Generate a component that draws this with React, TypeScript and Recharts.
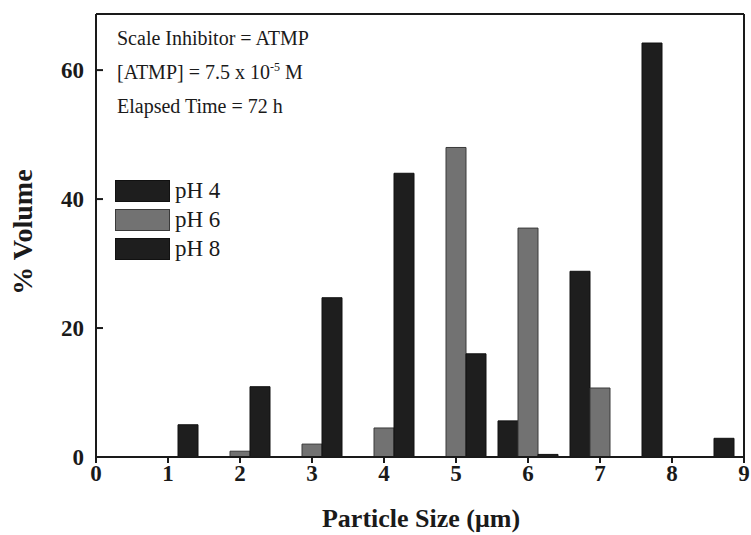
import React from 'react';
import { BarChart, Bar, XAxis, YAxis, ReferenceLine, Legend, Customized } from 'recharts';

// Particle size bins (µm) and % volume per pH
const sizes = [1, 2, 3, 4, 5, 6, 7, 8, 9];
const ph4 = [0, 0, 0, 0, 0, 5.6, 28.8, 64.2, 2.9];
const ph6 = [0, 0.9, 2.0, 4.5, 48.0, 35.5, 10.7, 0, 0];
const ph8 = [5.0, 10.9, 24.7, 44.0, 16.0, 0.4, 0, 0, 0];

const xTicks = [0, 1, 2, 3, 4, 5, 6, 7, 8, 9];
const yTicks = [0, 20, 40, 60];
const yMax = 68.7;

const seriesNames = ['pH 4', 'pH 6', 'pH 8'];
const seriesFills = ['#1e1e1e', '#727272', '#1e1e1e'];
const seriesStrokes = ['#111111', '#3a3a3a', '#111111'];

const data = sizes.map((s, i) => ({ size: s, ph4: ph4[i], ph6: ph6[i], ph8: ph8[i] }));

const FONT = "'Liberation Serif', 'Times New Roman', serif";
const INK = '#1a1a1a';

const YTick = (props: any) => {
  const { x, y, payload } = props;
  return (
    <g>
      <line x1={x} y1={y} x2={x + 7} y2={y} stroke={INK} strokeWidth={2} />
      <text x={x - 12} y={y} dy="0.35em" textAnchor="end" fontFamily={FONT} fontWeight="bold" fontSize={23} fill={INK}>
        {payload.value}
      </text>
    </g>
  );
};

const XTick = (props: any) => {
  const { x, y, payload } = props;
  return (
    <text x={x} y={y} dy="0.71em" textAnchor="middle" fontFamily={FONT} fontWeight="bold" fontSize={23} fill={INK}>
      {payload.value}
    </text>
  );
};

const LegendBox = () => (
  <div style={{ display: 'flex', flexDirection: 'column', gap: 7 }}>
    {seriesNames.map((n, i) => (
      <div key={n} style={{ display: 'flex', alignItems: 'center', height: 22 }}>
        <div
          style={{
            width: 53,
            height: 20,
            background: seriesFills[i],
            border: `1px solid ${seriesStrokes[i]}`,
          }}
        />
        <span style={{ fontFamily: FONT, fontSize: 23, color: INK, marginLeft: 5, lineHeight: '22px' }}>{n}</span>
      </div>
    ))}
  </div>
);

const Notes = () => (
  <g fontFamily={FONT} fontSize={20} fill={INK}>
    <text x={117} y={45}>Scale Inhibitor = ATMP</text>
    <text x={117} y={79}>
      [ATMP] = 7.5 x 10
      <tspan dy={-8} fontSize={12}>-5</tspan>
      <tspan dy={8}> M</tspan>
    </text>
    <text x={117} y={113}>Elapsed Time = 72 h</text>
    <text x={421} y={527} textAnchor="middle" fontSize={26} fontWeight="bold">
      Particle Size (μm)
    </text>
    <text
      x={32}
      y={232}
      textAnchor="middle"
      fontSize={28}
      fontWeight="bold"
      transform="rotate(-90 32 232)"
    >
      % Volume
    </text>
  </g>
);

export default function App() {
  return (
    <div style={{ position: 'absolute', left: 0, top: 0, width: 751, height: 535, background: '#fff' }}>
      <BarChart
        width={751}
        height={535}
        data={data}
        margin={{ top: 14, right: 7, bottom: 0, left: 0 }}
        barGap={0}
        barSize={20}
      >
        <XAxis
          dataKey="size"
          type="number"
          domain={[0, 9]}
          ticks={xTicks}
          interval={0}
          height={78}
          tick={<XTick />}
          tickSize={6}
          tickMargin={2}
          stroke={INK}
          strokeWidth={2}
          tickLine={{ stroke: INK, strokeWidth: 2 }}
          allowDecimals={false}
        />
        <YAxis
          type="number"
          domain={[0, yMax]}
          ticks={yTicks}
          width={96}
          tick={<YTick />}
          tickLine={false}
          tickSize={0}
          tickMargin={0}
          stroke={INK}
          strokeWidth={2}
          allowDataOverflow
        />
        <ReferenceLine y={yMax} stroke={INK} strokeWidth={2} ifOverflow="visible" />
        <ReferenceLine x={9} stroke={INK} strokeWidth={2} ifOverflow="visible" />
        <Bar dataKey="ph4" name={seriesNames[0]} fill={seriesFills[0]} stroke={seriesStrokes[0]} strokeWidth={1} isAnimationActive={false} />
        <Bar dataKey="ph6" name={seriesNames[1]} fill={seriesFills[1]} stroke={seriesStrokes[1]} strokeWidth={1} isAnimationActive={false} />
        <Bar dataKey="ph8" name={seriesNames[2]} fill={seriesFills[2]} stroke={seriesStrokes[2]} strokeWidth={1} isAnimationActive={false} />
        <Legend
          layout="horizontal"
          align="center"
          verticalAlign="middle"
          content={<LegendBox />}
          wrapperStyle={{ position: 'absolute', left: 115, top: 180, width: 'auto' }}
        />
        <Customized component={<Notes />} />
      </BarChart>
    </div>
  );
}
